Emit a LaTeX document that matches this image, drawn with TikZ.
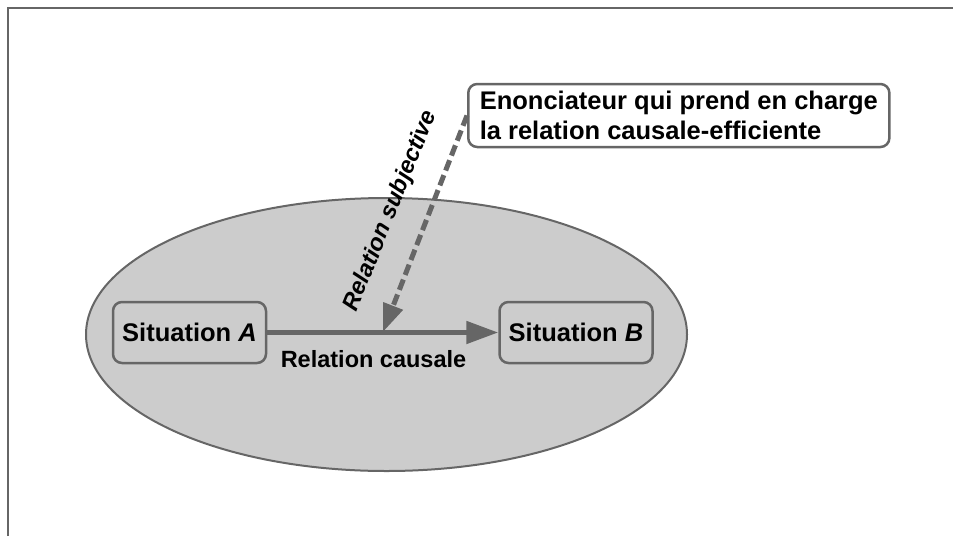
\documentclass[tikz,border=0pt]{standalone}
\usepackage{fontspec}
\setmainfont{Liberation Sans}
\usetikzlibrary{arrows.meta,shapes.geometric}
\definecolor{edgegray}{HTML}{666666}
\definecolor{fillgray}{HTML}{CCCCCC}
\begin{document}
\begin{tikzpicture}[x=1pt,y=1pt,
  frameline/.style={draw=edgegray, line width=1.5pt},
  scenebox/.style={ellipse, draw=edgegray, fill=fillgray, line width=2pt, minimum width=601pt, minimum height=273pt, inner sep=0pt},
  sitbox/.style={draw=edgegray, line width=2.5pt, rounded corners=9pt, minimum width=153pt, minimum height=61pt, inner sep=0pt, font=\fontsize{25.5}{30}\selectfont\bfseries},
  enonbox/.style={draw=edgegray, fill=white, line width=2.5pt, rounded corners=9pt, inner xsep=11.5pt, inner ysep=0pt, minimum width=420pt, minimum height=63pt, align=left, font=\fontsize{25.5}{30}\selectfont\bfseries},
  labeltext/.style={font=\fontsize{23.5}{27}\selectfont\bfseries, inner sep=0pt},
  causal/.style={draw=edgegray, line width=5pt, -{Triangle[length=32pt,width=22pt]}},
  subj/.style={draw=edgegray, line width=5pt, dash pattern=on 11pt off 5pt, -{Triangle[length=28pt,width=20pt]}}
]
\useasboundingbox (0,0) rectangle (953,-536);
\draw[frameline] (8,-536) -- (8,-8) -- (953,-8);
\node[scenebox] (scene) at (386.5,-334.5) {};
\node[sitbox] (sa) at (189.5,-332.5) {Situation \textit{A}};
\node[sitbox] (sb) at (576,-332.5) {Situation \textit{B}};
\node[enonbox, anchor=west] (enon) at (467,-115.5) {Enonciateur qui prend en charge\\la relation causale-efficiente};
\draw[causal] (sa) -- (sb);
\node[labeltext] (causlabel) at (373.5,-359) {Relation causale};
\coordinate (tip) at (383,-332);
\draw[subj] (enon.west) -- (tip);
\node[labeltext, font=\fontsize{23.5}{27}\selectfont\bfseries\itshape, rotate=68] (subjlabel) at (391,-211) {Relation subjective};
\end{tikzpicture}
\end{document}
